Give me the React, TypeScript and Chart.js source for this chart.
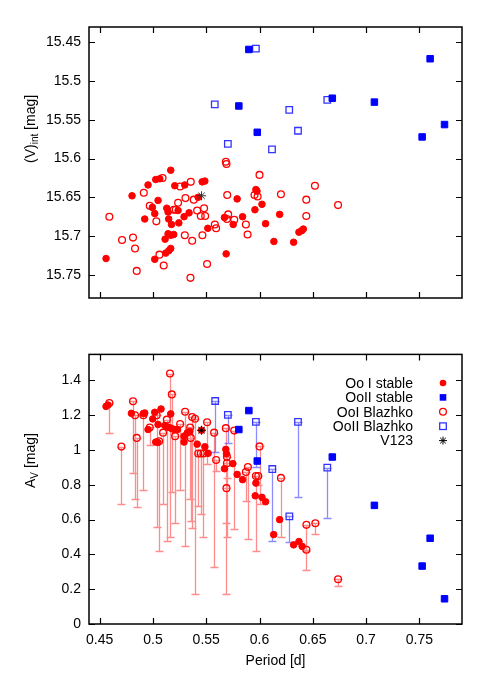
import React, { useEffect, useRef } from 'react';
import { Chart, registerables } from 'chart.js';
Chart.register(...registerables);

const FONT = '"Liberation Sans", Arial, Helvetica, sans-serif';
Chart.defaults.font.family = FONT;

// ---------- tick labels ----------
const xTicks = [0.45, 0.5, 0.55, 0.6, 0.65, 0.7, 0.75];
const topYTicks = [15.45, 15.5, 15.55, 15.6, 15.65, 15.7, 15.75];
const botYTicks = [0, 0.2, 0.4, 0.6, 0.8, 1, 1.2, 1.4];
const legendLabels = ['Oo I stable', 'OoII stable', 'OoI Blazhko', 'OoII Blazhko', 'V123'];
const xTitle = 'Period [d]';

// ---------- top panel: [period, <V>int] ----------
const ooIStableTop = [
  [0.5167, 15.615], [0.4954, 15.634], [0.5026, 15.627], [0.5064, 15.626], [0.5205, 15.635],
  [0.5299, 15.634], [0.5462, 15.630], [0.5487, 15.629], [0.4804, 15.648], [0.5048, 15.654],
  [0.4995, 15.663], [0.5017, 15.671], [0.5424, 15.650], [0.5790, 15.652], [0.5966, 15.640],
  [0.5976, 15.642], [0.6023, 15.659], [0.5957, 15.666], [0.6189, 15.672], [0.6057, 15.684],
  [0.5841, 15.675], [0.6135, 15.707], [0.6320, 15.708], [0.6370, 15.695], [0.6396, 15.693],
  [0.6411, 15.691], [0.4560, 15.729], [0.4923, 15.678], [0.5130, 15.664], [0.5142, 15.669],
  [0.5236, 15.667], [0.5148, 15.678], [0.5174, 15.685], [0.5243, 15.683], [0.5292, 15.675],
  [0.5339, 15.670], [0.5515, 15.690], [0.5671, 15.676], [0.5753, 15.685], [0.5142, 15.697],
  [0.5167, 15.699], [0.5195, 15.698], [0.5114, 15.704], [0.5167, 15.716], [0.5148, 15.719],
  [0.5120, 15.722], [0.5017, 15.730], [0.5687, 15.723],
];
const ooIIStableTop = [
  [0.5900, 15.459], [0.5806, 15.532], [0.5979, 15.566], [0.6683, 15.522],
  [0.7078, 15.527], [0.7601, 15.471], [0.7736, 15.556], [0.7526, 15.572],
];
const ooIBlazhkoTop = [
  [0.5684, 15.604], [0.5690, 15.607], [0.6000, 15.621], [0.5255, 15.636], [0.5355, 15.630],
  [0.6520, 15.635], [0.4914, 15.644], [0.4970, 15.661], [0.5236, 15.657], [0.5305, 15.651],
  [0.5383, 15.653], [0.5697, 15.647], [0.5953, 15.647], [0.5982, 15.649], [0.6201, 15.646],
  [0.6439, 15.653], [0.6439, 15.674], [0.6737, 15.660], [0.5872, 15.685], [0.5888, 15.698],
  [0.4591, 15.675], [0.4710, 15.705], [0.4813, 15.702], [0.4832, 15.716], [0.4848, 15.745],
  [0.5032, 15.681], [0.5195, 15.666], [0.5214, 15.666], [0.5415, 15.667], [0.5480, 15.664],
  [0.5449, 15.674], [0.5490, 15.674], [0.5581, 15.685], [0.5593, 15.690], [0.5706, 15.672],
  [0.5694, 15.678], [0.5763, 15.679], [0.5299, 15.699], [0.5368, 15.706], [0.5464, 15.699],
  [0.5061, 15.724], [0.5101, 15.738], [0.5508, 15.736], [0.5352, 15.754], [0.5090, 15.625],
];
const ooIIBlazhkoTop = [
  [0.5580, 15.530], [0.5703, 15.581], [0.5966, 15.458], [0.6117, 15.588],
  [0.6279, 15.537], [0.6361, 15.564], [0.6636, 15.524],
];
const v123Top = [[0.5456, 15.648]];

// ---------- bottom panel: [period, A_V] / [period, A_max, A_min] ----------
const ooIStableBot = [
  [0.4560, 1.251], [0.4578, 1.259], [0.4798, 1.211], [0.4910, 1.210], [0.4923, 1.213],
  [0.5017, 1.217], [0.5076, 1.236], [0.5167, 1.208], [0.4954, 1.118], [0.4998, 1.179],
  [0.5048, 1.147], [0.5026, 1.046], [0.5045, 1.044], [0.5111, 1.141], [0.5136, 1.133],
  [0.5161, 1.128], [0.5180, 1.122], [0.5205, 1.118], [0.5230, 1.118], [0.5292, 1.080],
  [0.5292, 1.046], [0.5323, 1.099], [0.5346, 1.107], [0.5415, 1.034], [0.5487, 1.019],
  [0.5518, 0.981], [0.5684, 1.004], [0.5690, 0.979], [0.5750, 0.922], [0.5671, 0.893],
  [0.5790, 0.860], [0.5841, 0.830], [0.5966, 0.810], [0.5960, 0.737], [0.6023, 0.728],
  [0.6057, 0.703], [0.6133, 0.514], [0.6189, 0.600], [0.6320, 0.455], [0.6370, 0.474],
  [0.6400, 0.446], [0.5456, 1.114],
];
const ooIIStableBot = [
  [0.5806, 1.118], [0.5900, 1.227], [0.5979, 0.937], [0.6683, 0.960],
  [0.7078, 0.682], [0.7601, 0.493], [0.7526, 0.333], [0.7736, 0.145],
];
const ooIBlazhkoBot = [
  [0.4591, 1.27, 1.10], [0.4704, 1.02, 0.69], [0.4813, 1.28, 0.87], [0.4832, 1.20, 0.72],
  [0.4848, 1.07, 0.67], [0.4910, 1.20, 0.77], [0.4970, 1.13, 1.03], [0.5035, 1.20, 0.56],
  [0.5058, 1.05, 0.42], [0.5095, 1.10, 0.69], [0.5130, 1.175, 0.48], [0.5160, 1.44, 0.50],
  [0.5177, 1.32, 0.76], [0.5208, 1.08, 0.58], [0.5255, 1.15, 0.77], [0.5302, 1.22, 0.45],
  [0.5349, 1.13, 0.72], [0.5355, 1.07, 0.59], [0.5368, 1.19, 0.55], [0.5395, 1.18, 0.17],
  [0.5425, 0.98, 0.68], [0.5449, 0.98, 0.63], [0.5474, 0.98, 0.50], [0.5508, 1.16, 0.92],
  [0.5574, 1.10, 0.33], [0.5593, 0.943, 0.88], [0.5684, 1.126, 0.58], [0.5694, 0.962, 0.50],
  [0.5694, 0.924, 0.84], [0.5690, 0.781, 0.17], [0.5763, 1.112, 0.547], [0.5872, 0.874, 0.71],
  [0.5891, 0.903, 0.49], [0.5966, 0.851, 0.42], [0.5988, 0.851, 0.80], [0.6000, 1.021, 0.69],
  [0.6201, 0.840, 0.50], [0.6440, 0.570, 0.31], [0.6440, 0.427, 0.42], [0.6524, 0.579, 0.52],
  [0.6737, 0.257, 0.217],
];
const ooIIBlazhkoBot = [
  [0.5584, 1.282, 0.99], [0.5703, 1.202, 1.04], [0.5966, 1.162, 0.903], [0.6120, 0.891, 0.478],
  [0.6280, 0.619, 0.469], [0.6361, 1.162, 0.73], [0.6636, 0.899, 0.607],
];
const v123Bot = [[0.5456, 1.114]];

// ---------- styles ----------
const RED = '#ff0000';
const BLUE = '#0000ff';
const OPEN_BLUE = '#3333ff';
const RED_BAR = 'rgba(255,0,0,0.45)';
const BLUE_BAR = 'rgba(0,0,255,0.45)';

const pts = (arr: number[][]) => arr.map((r) => ({ x: r[0], y: r[1] }));

function makeDatasets(
  a: number[][], b: number[][], c: number[][], d: number[][], e: number[][], starColor: string,
) {
  return [
    { label: legendLabels[4], data: pts(e), pointStyle: 'star', radius: 4.5, borderColor: starColor, backgroundColor: starColor, borderWidth: 1, order: 0 },
    { label: legendLabels[0], data: pts(a), pointStyle: 'circle', radius: 3.3, borderColor: RED, backgroundColor: RED, borderWidth: 1, order: 3 },
    { label: legendLabels[1], data: pts(b), pointStyle: 'rect', radius: 4.6, borderColor: BLUE, backgroundColor: BLUE, borderWidth: 1, order: 1 },
    { label: legendLabels[2], data: pts(c), pointStyle: 'circle', radius: 3.4, borderColor: RED, backgroundColor: 'rgba(0,0,0,0)', borderWidth: 1.3, order: 4 },
    { label: legendLabels[3], data: pts(d), pointStyle: 'rect', radius: 4.6, borderColor: OPEN_BLUE, backgroundColor: 'rgba(0,0,0,0)', borderWidth: 1.3, order: 2 },
  ];
}

// ---------- plugins ----------
const framePlugin = {
  id: 'frame',
  afterDatasetsDraw(chart: any) {
    const { ctx, chartArea: a, scales } = chart;
    ctx.save();
    ctx.strokeStyle = '#000';
    ctx.lineWidth = 1.5;
    ctx.strokeRect(a.left, a.top, a.right - a.left, a.bottom - a.top);
    ctx.lineWidth = 1.2;
    const L = 6;
    ctx.beginPath();
    scales.x.ticks.forEach((t: any) => {
      const px = Math.round(scales.x.getPixelForValue(t.value)) + 0.5;
      ctx.moveTo(px, a.bottom); ctx.lineTo(px, a.bottom - L);
      ctx.moveTo(px, a.top); ctx.lineTo(px, a.top + L);
    });
    scales.y.ticks.forEach((t: any) => {
      const py = Math.round(scales.y.getPixelForValue(t.value)) + 0.5;
      ctx.moveTo(a.left, py); ctx.lineTo(a.left + L, py);
      ctx.moveTo(a.right, py); ctx.lineTo(a.right - L, py);
    });
    ctx.stroke();
    ctx.restore();
  },
};

const yTitlePlugin = {
  id: 'yTitle',
  afterDraw(chart: any, _args: any, opts: any) {
    if (!opts || !opts.main) return;
    const ctx = chart.ctx;
    ctx.save();
    ctx.translate(opts.x, opts.y);
    ctx.rotate(-Math.PI / 2);
    ctx.fillStyle = '#000';
    ctx.textBaseline = 'alphabetic';
    ctx.textAlign = 'left';
    let cx = 0;
    ctx.font = `14px ${FONT}`;
    ctx.fillText(opts.main, cx, 0);
    cx += ctx.measureText(opts.main).width;
    ctx.font = `10px ${FONT}`;
    ctx.fillText(opts.sub, cx, 3);
    cx += ctx.measureText(opts.sub).width;
    ctx.font = `14px ${FONT}`;
    ctx.fillText(opts.rest, cx, 0);
    ctx.restore();
  },
};

const errorBarPlugin = {
  id: 'errBars',
  beforeDatasetsDraw(chart: any, _args: any, opts: any) {
    if (!opts || !opts.sets) return;
    const { ctx, scales, chartArea: a } = chart;
    ctx.save();
    ctx.beginPath();
    ctx.rect(a.left, a.top, a.right - a.left, a.bottom - a.top);
    ctx.clip();
    ctx.lineWidth = 1.3;
    const cap = 4;
    opts.sets.forEach((s: any) => {
      ctx.strokeStyle = s.color;
      ctx.beginPath();
      s.data.forEach((r: number[]) => {
        const x = Math.round(scales.x.getPixelForValue(r[0])) + 0.5;
        const y1 = Math.round(scales.y.getPixelForValue(r[1])) + 0.5;
        const y2 = Math.round(scales.y.getPixelForValue(r[2])) + 0.5;
        ctx.moveTo(x, y1); ctx.lineTo(x, y2);
        ctx.moveTo(x - cap, y1); ctx.lineTo(x + cap, y1);
        ctx.moveTo(x - cap, y2); ctx.lineTo(x + cap, y2);
      });
      ctx.stroke();
    });
    ctx.restore();
  },
};

const legendPlugin = {
  id: 'customLegend',
  afterDraw(chart: any, _args: any, opts: any) {
    if (!opts || !opts.show) return;
    const ctx = chart.ctx;
    ctx.save();
    ctx.font = `14px ${FONT}`;
    ctx.textAlign = 'right';
    ctx.textBaseline = 'middle';
    legendLabels.forEach((lab, i) => {
      const y = opts.y0 + i * opts.dy;
      ctx.fillStyle = '#000';
      ctx.fillText(lab, opts.textRight, y + 1);
      const sx = opts.symX;
      ctx.lineWidth = 1.3;
      if (i === 0) {
        ctx.fillStyle = RED; ctx.beginPath(); ctx.arc(sx, y, 3.3, 0, Math.PI * 2); ctx.fill();
      } else if (i === 1) {
        ctx.fillStyle = BLUE; ctx.fillRect(sx - 3.3, y - 3.3, 6.6, 6.6);
      } else if (i === 2) {
        ctx.strokeStyle = RED; ctx.beginPath(); ctx.arc(sx, y, 3.4, 0, Math.PI * 2); ctx.stroke();
      } else if (i === 3) {
        ctx.strokeStyle = OPEN_BLUE; ctx.strokeRect(sx - 3.3, y - 3.3, 6.6, 6.6);
      } else {
        ctx.strokeStyle = '#000'; ctx.lineWidth = 1; ctx.beginPath();
        const r = 4;
        for (let k = 0; k < 4; k++) {
          const ang = (k * Math.PI) / 4;
          ctx.moveTo(sx - r * Math.cos(ang), y - r * Math.sin(ang));
          ctx.lineTo(sx + r * Math.cos(ang), y + r * Math.sin(ang));
        }
        ctx.stroke();
      }
    });
    ctx.restore();
  },
};

function axisX(showLabels: boolean, height: number) {
  return {
    type: 'linear',
    min: 0.44,
    max: 0.79,
    afterBuildTicks: (s: any) => { s.ticks = xTicks.map((v) => ({ value: v })); },
    afterFit: (s: any) => { s.height = height; },
    grid: { display: false, drawTicks: false },
    border: { display: false },
    ticks: {
      display: showLabels,
      padding: 8,
      color: '#000',
      font: { size: 14, family: FONT },
      maxRotation: 0,
      callback: (v: any) => String(v),
    },
    title: {
      display: showLabels,
      text: xTitle,
      color: '#000',
      font: { size: 14, family: FONT },
      padding: { top: 0, bottom: 7 },
    },
  };
}

function axisY(min: number, max: number, ticks: number[], reverse: boolean) {
  return {
    type: 'linear',
    min,
    max,
    reverse,
    afterBuildTicks: (s: any) => { s.ticks = ticks.map((v) => ({ value: v })); },
    afterFit: (s: any) => { s.width = 89; },
    grid: { display: false, drawTicks: false },
    border: { display: false },
    ticks: {
      padding: 8,
      color: '#000',
      font: { size: 14, family: FONT },
      callback: (v: any) => String(v),
    },
  };
}

function ChartCanvas({ config, width, height }: { config: any; width: number; height: number }) {
  const ref = useRef<HTMLCanvasElement | null>(null);
  useEffect(() => {
    if (!ref.current) return;
    const chart = new Chart(ref.current, config);
    return () => chart.destroy();
  }, []);
  return <canvas ref={ref} width={width} height={height} style={{ display: 'block', width, height }} />;
}

const TOP_H = 338;
const BOT_H = 339;

const topConfig = {
  type: 'scatter',
  data: { datasets: makeDatasets(ooIStableTop, ooIIStableTop, ooIBlazhkoTop, ooIIBlazhkoTop, v123Top, '#333333') },
  options: {
    responsive: false,
    animation: false,
    devicePixelRatio: 1,
    layout: { padding: { left: 0, right: 29, top: 27, bottom: 0 } },
    scales: {
      x: axisX(false, 40),
      y: axisY(15.43, 15.78, topYTicks, true),
    },
    plugins: {
      legend: { display: false },
      tooltip: { enabled: false },
      yTitle: { main: '(V)', sub: 'int', rest: ' [mag]', x: 35, y: 163 },
    },
  },
  plugins: [framePlugin, yTitlePlugin],
};

const botConfig = {
  type: 'scatter',
  data: { datasets: makeDatasets(ooIStableBot, ooIIStableBot, ooIBlazhkoBot, ooIIBlazhkoBot, v123Bot, '#000000') },
  options: {
    responsive: false,
    animation: false,
    devicePixelRatio: 1,
    layout: { padding: { left: 0, right: 29, top: 15, bottom: 0 } },
    scales: {
      x: axisX(true, 53),
      y: axisY(0, 1.55, botYTicks, false),
    },
    plugins: {
      legend: { display: false },
      tooltip: { enabled: false },
      yTitle: { main: 'A', sub: 'V', rest: ' [mag]', x: 35, y: 150 },
      errBars: { sets: [{ data: ooIBlazhkoBot, color: RED_BAR }, { data: ooIIBlazhkoBot, color: BLUE_BAR }] },
      customLegend: { show: true, textRight: 413, symX: 443, y0: 45, dy: 14.4 },
    },
  },
  plugins: [errorBarPlugin, framePlugin, yTitlePlugin, legendPlugin],
};

export default function App() {
  return (
    <div style={{ position: 'absolute', left: 0, top: 0, width: 491, height: 677, background: '#fff' }}>
      <ChartCanvas config={topConfig} width={491} height={TOP_H} />
      <ChartCanvas config={botConfig} width={491} height={BOT_H} />
    </div>
  );
}
